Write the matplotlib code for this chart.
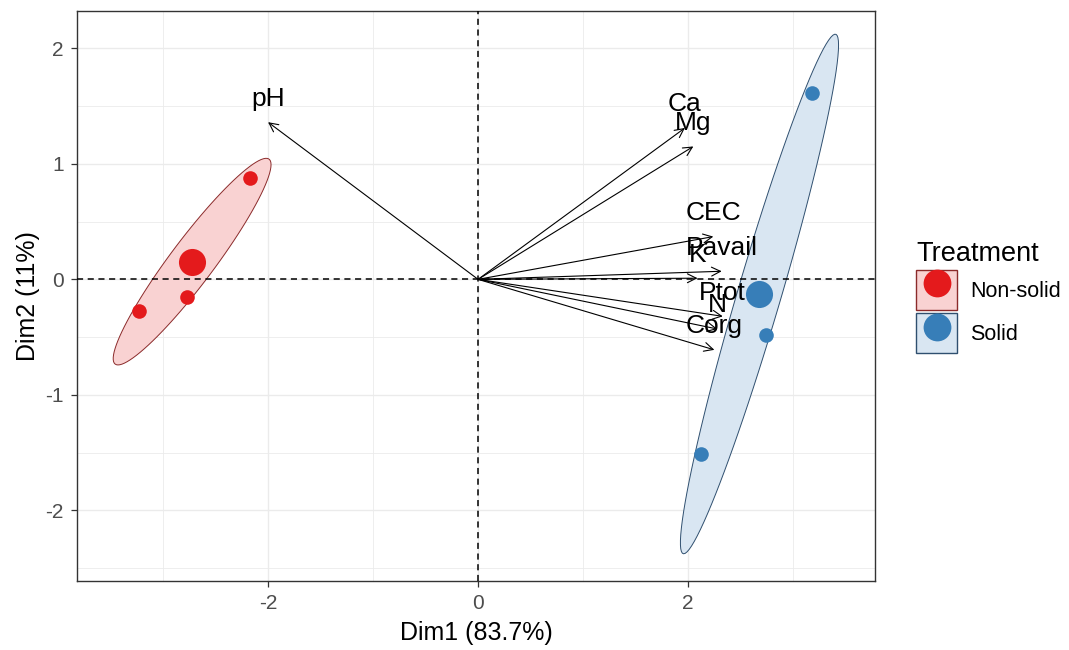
import numpy as np
import matplotlib
matplotlib.use("Agg")
import matplotlib.pyplot as plt
from matplotlib.patches import Patch, Polygon
from matplotlib.lines import Line2D

plt.rcParams['font.family'] = ['Liberation Sans', 'DejaVu Sans']
plt.rcParams['axes.unicode_minus'] = False

# Individuals (PCA scores) by treatment
nonsolid_x = [-2.17, -2.77, -3.23]
nonsolid_y = [0.88, -0.15, -0.27]
solid_x = [3.18, 2.74, 2.12]
solid_y = [1.61, -0.48, -1.51]

# Variables (arrow end points)
var_names = ["pH", "Ca", "Mg", "CEC", "Pavail", "K", "Ptot", "N", "Corg"]
var_x = [-2.00, 1.97, 2.05, 2.24, 2.32, 2.09, 2.33, 2.28, 2.25]
var_y = [1.36, 1.31, 1.15, 0.37, 0.07, 0.01, -0.32, -0.43, -0.61]

groups = ["Non-solid", "Solid"]
colors = {"Non-solid": "#E41A1C", "Solid": "#377EB8"}
fills = {"Non-solid": "#F9D2D2", "Solid": "#D9E6F2"}
edges = {"Non-solid": "#8B2A2A", "Solid": "#2F4F6F"}

ELLIPSE_RADIUS = np.sqrt(2)


def ellipse_path(x, y, radius, n=100):
    pts = np.column_stack([x, y])
    center = pts.mean(axis=0)
    cov = np.cov(pts, rowvar=False)
    chol = np.linalg.cholesky(cov)
    t = np.linspace(0, 2 * np.pi, n)
    circle = np.column_stack([np.cos(t), np.sin(t)])
    return center + radius * circle @ chol.T


fig = plt.figure(figsize=(10.69, 6.5), dpi=100)
ax = fig.add_axes([0.072, 0.1062, 0.7465, 0.8774])

data = {"Non-solid": (nonsolid_x, nonsolid_y), "Solid": (solid_x, solid_y)}

for g in groups:
    gx, gy = data[g]
    poly = ellipse_path(gx, gy, ELLIPSE_RADIUS)
    ax.add_patch(Polygon(poly, closed=True, facecolor=fills[g], edgecolor=edges[g],
                         lw=0.7, zorder=2))
    ax.plot(gx, gy, 'o', color=colors[g], markersize=10.5, markeredgewidth=0, zorder=4)
    ax.plot(np.mean(gx), np.mean(gy), 'o', color=colors[g], markersize=19.5,
            markeredgewidth=0, zorder=4)

ax.axhline(0, color='black', ls=(0, (4, 3)), lw=1.1, zorder=3)
ax.axvline(0, color='black', ls=(0, (4, 3)), lw=1.1, zorder=3)

for name, vx, vy in zip(var_names, var_x, var_y):
    ax.annotate('', xy=(vx, vy), xytext=(0, 0),
                arrowprops=dict(arrowstyle='->', lw=0.8, color='black',
                                mutation_scale=16, shrinkA=0, shrinkB=0), zorder=5)
    ax.annotate(name, xy=(vx, vy), xytext=(0, 17), textcoords='offset points',
                ha='center', va='center', fontsize=19, color='black', zorder=6)

ax.set_xlim(-3.82, 3.78)
ax.set_ylim(-2.61, 2.325)
ax.set_xticks([-2, 0, 2])
ax.set_yticks([-2, -1, 0, 1, 2])
ax.set_xticks([-3, -1, 1, 3], minor=True)
ax.set_yticks([-2.5, -1.5, -0.5, 0.5, 1.5], minor=True)
ax.grid(True, which='major', color='#EBEBEB', lw=1.0)
ax.grid(True, which='minor', color='#EBEBEB', lw=0.6)
ax.set_axisbelow(True)
ax.tick_params(which='major', length=4, color='#333333', labelsize=15,
               labelcolor='#4D4D4D', width=0.9, pad=5.5)
ax.tick_params(which='minor', length=0)
for s in ax.spines.values():
    s.set_color('#333333')
    s.set_linewidth(1.0)

ax.set_xlabel("Dim1 (83.7%)", fontsize=18, labelpad=6)
ax.set_ylabel("Dim2 (11%)", fontsize=18, labelpad=4)

handles = []
for g in groups:
    box = Patch(facecolor=fills[g], edgecolor=edges[g], lw=1.0)
    dot = Line2D([], [], marker='o', ls='', color=colors[g], markersize=20,
                 markeredgewidth=0)
    handles.append((box, dot))
leg = fig.legend(handles, groups, loc='center left', bbox_to_anchor=(0.857, 0.543),
                 frameon=False, fontsize=15.5, title="Treatment", title_fontsize=19.5,
                 handlelength=1.9, handleheight=2.48, handletextpad=0.6,
                 labelspacing=0.15, borderaxespad=0, borderpad=0)
leg._legend_box.align = "left"

fig.savefig("out.png", dpi=100)
